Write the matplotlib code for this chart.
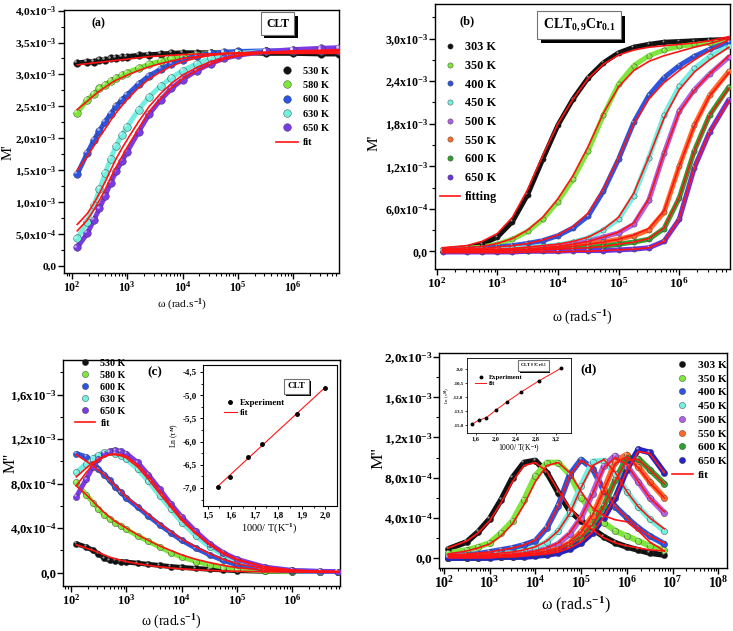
import matplotlib.pyplot as plt
import matplotlib.transforms as mtransforms
import matplotlib.patheffects as pe
from matplotlib.ticker import MultipleLocator, LogLocator, NullFormatter

plt.rcParams['font.family'] = 'Liberation Serif'
plt.rcParams['font.weight'] = 'bold'
plt.rcParams['mathtext.fontset'] = 'custom'
plt.rcParams['mathtext.rm'] = 'Liberation Serif:bold'
plt.rcParams['mathtext.it'] = 'Liberation Serif:italic:bold'
plt.rcParams['mathtext.bf'] = 'Liberation Serif:bold'
plt.rcParams['axes.linewidth'] = 1.0

RED = '#ff1414'

# ---------------- data (M values in units of 1e-3) ----------------
# CLT, angular frequency (rad/s)
w_clt = [125, 190, 250, 315, 400, 500, 630, 800, 1000, 1600, 2500, 4000, 6300,
         1e4, 1.8e4, 3.2e4, 5.6e4, 1e5, 3.2e5, 1e6, 3.2e6, 6.6e6]
t_clt = ['530 K', '580 K', '600 K', '630 K', '650 K']
c_clt = ['#111111', '#7ee63c', '#2f55e0', '#72efe0', '#7a3ae6']

# (a) M'
a_530 = [3.18, 3.20, 3.20, 3.22, 3.23, 3.25, 3.26, 3.27, 3.28, 3.30, 3.31, 3.32, 3.33, 3.34, 3.34, 3.34, 3.34, 3.34, 3.33, 3.33, 3.32, 3.32]
a_580 = [2.40, 2.60, 2.70, 2.78, 2.84, 2.90, 2.95, 2.99, 3.03, 3.10, 3.16, 3.21, 3.25, 3.28, 3.31, 3.33, 3.34, 3.35, 3.36, 3.36, 3.36, 3.36]
a_600 = [1.44, 1.77, 1.97, 2.12, 2.26, 2.38, 2.50, 2.60, 2.68, 2.85, 2.98, 3.08, 3.17, 3.23, 3.29, 3.33, 3.35, 3.36, 3.37, 3.37, 3.37, 3.37]
a_630 = [0.43, 0.69, 0.95, 1.20, 1.45, 1.68, 1.88, 2.05, 2.18, 2.45, 2.65, 2.82, 2.95, 3.06, 3.17, 3.25, 3.30, 3.33, 3.36, 3.38, 3.39, 3.40]
a_650 = [0.29, 0.51, 0.72, 0.90, 1.10, 1.30, 1.48, 1.64, 1.79, 2.10, 2.38, 2.60, 2.78, 2.92, 3.06, 3.17, 3.25, 3.30, 3.36, 3.39, 3.41, 3.42]
af_530 = [3.15, 3.17, 3.18, 3.19, 3.20, 3.21, 3.22, 3.23, 3.24, 3.26, 3.28, 3.29, 3.30, 3.31, 3.32, 3.32, 3.33, 3.33, 3.33, 3.33, 3.33, 3.33]
af_580 = [2.45, 2.58, 2.67, 2.74, 2.80, 2.86, 2.91, 2.95, 2.99, 3.06, 3.12, 3.17, 3.21, 3.25, 3.28, 3.30, 3.32, 3.33, 3.34, 3.35, 3.35, 3.35]
af_600 = [1.50, 1.72, 1.88, 2.02, 2.15, 2.28, 2.40, 2.51, 2.61, 2.79, 2.93, 3.04, 3.13, 3.20, 3.26, 3.30, 3.33, 3.34, 3.35, 3.36, 3.36, 3.36]
af_630 = [0.65, 0.82, 0.98, 1.14, 1.32, 1.50, 1.68, 1.84, 1.98, 2.26, 2.50, 2.70, 2.86, 2.99, 3.11, 3.20, 3.26, 3.30, 3.34, 3.36, 3.37, 3.37]
af_650 = [0.55, 0.72, 0.88, 1.03, 1.20, 1.38, 1.55, 1.71, 1.86, 2.15, 2.41, 2.62, 2.79, 2.93, 3.06, 3.16, 3.24, 3.29, 3.34, 3.37, 3.38, 3.39]

# (c) M''
c_530 = [0.26, 0.23, 0.20, 0.17, 0.13, 0.11, 0.105, 0.10, 0.095, 0.085, 0.075, 0.065, 0.055, 0.047, 0.038, 0.03, 0.024, 0.018, 0.012, 0.01, 0.01, 0.01]
c_580 = [0.81, 0.70, 0.63, 0.57, 0.52, 0.48, 0.45, 0.42, 0.39, 0.33, 0.28, 0.23, 0.18, 0.14, 0.10, 0.07, 0.05, 0.03, 0.015, 0.01, 0.01, 0.01]
c_600 = [1.07, 1.04, 1.00, 0.93, 0.88, 0.83, 0.77, 0.72, 0.67, 0.59, 0.51, 0.43, 0.36, 0.29, 0.22, 0.16, 0.11, 0.07, 0.03, 0.015, 0.01, 0.01]
c_630 = [0.90, 0.98, 1.03, 1.06, 1.08, 1.08, 1.07, 1.05, 1.02, 0.93, 0.82, 0.69, 0.57, 0.45, 0.33, 0.23, 0.16, 0.11, 0.045, 0.02, 0.01, 0.01]
c_650 = [0.68, 0.84, 0.95, 1.02, 1.07, 1.09, 1.10, 1.09, 1.07, 0.99, 0.88, 0.75, 0.62, 0.50, 0.37, 0.26, 0.18, 0.12, 0.05, 0.02, 0.012, 0.01]
cf_530 = [0.25, 0.22, 0.20, 0.18, 0.16, 0.14, 0.125, 0.11, 0.10, 0.08, 0.065, 0.052, 0.042, 0.034, 0.026, 0.02, 0.015, 0.012, 0.008, 0.006, 0.005, 0.005]
cf_580 = [0.78, 0.70, 0.64, 0.59, 0.54, 0.50, 0.46, 0.43, 0.40, 0.34, 0.29, 0.24, 0.20, 0.16, 0.12, 0.09, 0.065, 0.045, 0.022, 0.012, 0.008, 0.006]
cf_600 = [1.06, 1.00, 0.96, 0.92, 0.88, 0.83, 0.78, 0.73, 0.68, 0.60, 0.52, 0.44, 0.37, 0.30, 0.23, 0.17, 0.12, 0.08, 0.035, 0.016, 0.01, 0.008]
cf_630 = [0.78, 0.90, 0.97, 1.01, 1.04, 1.06, 1.06, 1.05, 1.03, 0.95, 0.84, 0.71, 0.59, 0.47, 0.35, 0.25, 0.17, 0.115, 0.05, 0.022, 0.012, 0.01]
cf_650 = [0.86, 0.94, 0.99, 1.02, 1.045, 1.06, 1.065, 1.06, 1.045, 0.97, 0.87, 0.74, 0.61, 0.49, 0.36, 0.26, 0.18, 0.12, 0.052, 0.023, 0.012, 0.01]

# CLT0.9Cr0.1
w_cr = [125, 316, 562, 1000, 1780, 3160, 5620, 1e4, 1.78e4, 3.16e4, 5.62e4,
        1e5, 1.78e5, 3.16e5, 5.62e5, 1e6, 1.78e6, 3.16e6, 6.6e6]
t_cr = ['303 K', '350 K', '400 K', '450 K', '500 K', '550 K', '600 K', '650 K']
c_b = ['#111111', '#7ee63c', '#2f55e0', '#72efe0', '#b060e0', '#ff6a2a', '#2fa02f', '#6a35e0']
c_d = ['#111111', '#7ee63c', '#2f55e0', '#72efe0', '#b060e0', '#ff6a2a', '#2fa02f', '#2424c4']

# (b) M'
b_303 = [0.02, 0.05, 0.10, 0.20, 0.42, 0.80, 1.30, 1.78, 2.15, 2.45, 2.66, 2.80, 2.88, 2.92, 2.95, 2.96, 2.97, 2.98, 2.99]
b_350 = [0.02, 0.04, 0.06, 0.10, 0.17, 0.28, 0.45, 0.70, 1.02, 1.42, 1.92, 2.36, 2.62, 2.76, 2.84, 2.89, 2.92, 2.94, 2.96]
b_400 = [0.02, 0.03, 0.04, 0.06, 0.08, 0.11, 0.15, 0.22, 0.33, 0.50, 0.85, 1.30, 1.82, 2.20, 2.45, 2.62, 2.75, 2.85, 2.95]
b_450 = [0.01, 0.02, 0.02, 0.03, 0.04, 0.05, 0.07, 0.09, 0.13, 0.19, 0.30, 0.45, 0.78, 1.32, 1.92, 2.33, 2.58, 2.75, 2.89]
b_500 = [0.0, 0.0, 0.01, 0.01, 0.02, 0.03, 0.05, 0.07, 0.10, 0.14, 0.20, 0.26, 0.38, 0.72, 1.38, 1.98, 2.28, 2.50, 2.74]
b_550 = [0.0, 0.0, 0.0, 0.01, 0.01, 0.02, 0.03, 0.05, 0.07, 0.10, 0.13, 0.17, 0.22, 0.30, 0.55, 1.20, 1.78, 2.20, 2.54]
b_600 = [0.0, 0.0, 0.0, 0.0, 0.01, 0.01, 0.02, 0.03, 0.04, 0.05, 0.07, 0.10, 0.13, 0.17, 0.32, 0.75, 1.42, 1.92, 2.32]
b_650 = [-0.01, -0.01, -0.01, -0.01, -0.01, 0.0, 0.0, 0.0, 0.01, 0.01, 0.01, 0.02, 0.03, 0.05, 0.14, 0.45, 1.18, 1.68, 2.14]
bf_303 = [0.05, 0.08, 0.14, 0.25, 0.48, 0.87, 1.35, 1.80, 2.15, 2.44, 2.64, 2.77, 2.84, 2.88, 2.90, 2.92, 2.94, 2.97, 3.03]
bf_350 = [0.03, 0.05, 0.07, 0.11, 0.18, 0.30, 0.48, 0.74, 1.07, 1.48, 1.95, 2.32, 2.55, 2.68, 2.76, 2.82, 2.88, 2.93, 3.01]
bf_400 = [0.02, 0.03, 0.04, 0.06, 0.08, 0.11, 0.16, 0.23, 0.35, 0.54, 0.88, 1.32, 1.80, 2.15, 2.38, 2.55, 2.70, 2.83, 2.99]
bf_450 = [0.01, 0.02, 0.03, 0.03, 0.04, 0.06, 0.08, 0.10, 0.14, 0.20, 0.31, 0.48, 0.82, 1.33, 1.88, 2.28, 2.53, 2.70, 2.88]
bf_500 = [0.0, 0.0, 0.01, 0.01, 0.02, 0.03, 0.05, 0.07, 0.10, 0.14, 0.20, 0.27, 0.40, 0.74, 1.38, 1.96, 2.27, 2.50, 2.76]
bf_550 = [0.0, 0.0, 0.0, 0.01, 0.01, 0.02, 0.03, 0.05, 0.07, 0.10, 0.13, 0.17, 0.23, 0.32, 0.57, 1.20, 1.77, 2.19, 2.52]
bf_600 = [0.0, 0.0, 0.0, 0.0, 0.01, 0.01, 0.02, 0.03, 0.04, 0.05, 0.07, 0.10, 0.13, 0.18, 0.33, 0.76, 1.42, 1.92, 2.30]
bf_650 = [-0.02, -0.02, -0.02, -0.02, -0.02, -0.01, -0.01, -0.01, 0.0, 0.0, 0.01, 0.02, 0.03, 0.05, 0.14, 0.46, 1.18, 1.68, 2.12]

# (d) M''
d_303 = [0.09, 0.16, 0.26, 0.39, 0.58, 0.80, 0.95, 0.97, 0.85, 0.65, 0.47, 0.37, 0.29, 0.21, 0.15, 0.11, 0.08, 0.05, 0.03]
d_350 = [0.05, 0.08, 0.11, 0.15, 0.25, 0.37, 0.58, 0.82, 0.95, 0.95, 0.83, 0.60, 0.45, 0.35, 0.27, 0.22, 0.17, 0.12, 0.08]
d_400 = [0.02, 0.03, 0.04, 0.06, 0.08, 0.10, 0.13, 0.17, 0.30, 0.52, 0.83, 0.98, 0.89, 0.67, 0.51, 0.40, 0.30, 0.22, 0.14]
d_450 = [0.01, 0.02, 0.02, 0.03, 0.04, 0.05, 0.07, 0.10, 0.16, 0.27, 0.45, 0.72, 0.96, 0.97, 0.84, 0.66, 0.51, 0.39, 0.27]
d_500 = [0.0, 0.01, 0.01, 0.02, 0.02, 0.03, 0.04, 0.06, 0.09, 0.14, 0.24, 0.40, 0.64, 0.92, 1.02, 0.92, 0.76, 0.60, 0.45]
d_550 = [0.0, 0.0, 0.01, 0.01, 0.01, 0.02, 0.03, 0.04, 0.06, 0.09, 0.15, 0.26, 0.42, 0.68, 0.96, 1.03, 0.91, 0.76, 0.60]
d_600 = [0.0, 0.0, 0.0, 0.01, 0.01, 0.01, 0.02, 0.03, 0.04, 0.07, 0.12, 0.20, 0.32, 0.52, 0.78, 1.00, 0.99, 0.88, 0.74]
d_650 = [0.0, 0.0, 0.0, 0.0, 0.01, 0.01, 0.01, 0.02, 0.03, 0.05, 0.09, 0.15, 0.25, 0.40, 0.60, 0.88, 1.08, 1.05, 0.85]
df_303 = [0.10, 0.17, 0.25, 0.37, 0.55, 0.76, 0.92, 0.95, 0.86, 0.67, 0.50, 0.37, 0.28, 0.20, 0.15, 0.12, 0.10, 0.08, 0.07]
df_350 = [0.04, 0.07, 0.10, 0.14, 0.22, 0.34, 0.53, 0.76, 0.92, 0.95, 0.85, 0.66, 0.50, 0.42, 0.38, 0.36, 0.27, 0.16, 0.07]
df_400 = [0.03, 0.04, 0.05, 0.06, 0.08, 0.10, 0.13, 0.18, 0.30, 0.52, 0.82, 0.97, 0.90, 0.68, 0.51, 0.40, 0.30, 0.22, 0.15]
df_450 = [0.03, 0.03, 0.04, 0.04, 0.05, 0.06, 0.08, 0.11, 0.17, 0.27, 0.44, 0.70, 0.92, 0.98, 0.85, 0.66, 0.51, 0.40, 0.29]
df_500 = [0.02, 0.02, 0.02, 0.03, 0.03, 0.04, 0.05, 0.07, 0.10, 0.15, 0.25, 0.41, 0.64, 0.90, 1.00, 0.93, 0.76, 0.60, 0.46]
df_550 = [0.02, 0.02, 0.02, 0.02, 0.02, 0.03, 0.04, 0.05, 0.07, 0.10, 0.16, 0.26, 0.43, 0.68, 0.94, 1.01, 0.90, 0.75, 0.60]
df_600 = [0.01, 0.01, 0.01, 0.01, 0.02, 0.02, 0.03, 0.04, 0.05, 0.08, 0.13, 0.21, 0.33, 0.52, 0.77, 0.98, 0.98, 0.88, 0.74]
df_650 = [0.0, 0.0, 0.0, 0.0, 0.01, 0.01, 0.02, 0.03, 0.04, 0.06, 0.10, 0.16, 0.26, 0.41, 0.61, 0.87, 1.06, 1.04, 0.85]

# insets: Ln(tau_M) vs 1000/T
ic_x = [1.545, 1.595, 1.67, 1.732, 1.879, 1.999]
ic_y = [-6.99, -6.77, -6.34, -6.05, -5.41, -4.84]
ic_fit_x = [1.54, 2.0]
ic_fit_y = [-6.98, -4.83]
id_x = [1.538, 1.667, 1.818, 2.0, 2.222, 2.5, 2.857, 3.30]
id_y = [-14.89, -14.5, -14.21, -13.43, -12.54, -11.5, -10.29, -8.93]

# tick labels
xt_6 = [1e2, 1e3, 1e4, 1e5, 1e6]
xl_6 = ['10$^{2}$', '10$^{3}$', '10$^{4}$', '10$^{5}$', '10$^{6}$']
xt_8 = [1e2, 1e3, 1e4, 1e5, 1e6, 1e7, 1e8]
xl_8 = ['10$^{2}$', '10$^{3}$', '10$^{4}$', '10$^{5}$', '10$^{6}$', '10$^{7}$', '10$^{8}$']
yt_a = [0, 0.5, 1.0, 1.5, 2.0, 2.5, 3.0, 3.5, 4.0]
yl_a = ['0,0', '5,0x10$^{-4}$', '1,0x10$^{-3}$', '1,5x10$^{-3}$', '2,0x10$^{-3}$',
        '2,5x10$^{-3}$', '3,0x10$^{-3}$', '3,5x10$^{-3}$', '4,0x10$^{-3}$']
yt_b = [0, 0.6, 1.2, 1.8, 2.4, 3.0]
yl_b = ['0,0', '6,0x10$^{-4}$', '1,2x10$^{-3}$', '1,8x10$^{-3}$', '2,4x10$^{-3}$', '3,0x10$^{-3}$']
yt_c = [0, 0.4, 0.8, 1.2, 1.6]
yl_c = ['0,0', '4,0x10$^{-4}$', '8,0x10$^{-4}$', '1,2x10$^{-3}$', '1,6x10$^{-3}$']
yt_d = [0, 0.4, 0.8, 1.2, 1.6, 2.0]
yl_d = ['0,0', '4,0x10$^{-4}$', '8,0x10$^{-4}$', '1,2x10$^{-3}$', '1,6x10$^{-3}$', '2,0x10$^{-3}$']


def draw_series(ax, w, ys, fits, colors, ms, band):
    handles = []
    shine = mtransforms.offset_copy(ax.transData, fig=ax.figure, x=-ms * 0.25, y=ms * 0.25,
                                    units='points')
    for y, c in zip(ys, colors):
        ax.plot(w, y, '-', color=c, lw=band, solid_capstyle='round', zorder=2)
        h, = ax.plot(w, y, 'o', color=c, ms=ms, mec='0.2', mew=0.3, zorder=3)
        ax.plot(w, y, 'o', color='white', alpha=0.55, ms=ms * 0.35, mew=0,
                transform=shine, zorder=3.5)
        handles.append(h)
    for f in fits:
        ln, = ax.plot(w, f, '-', color=RED, lw=1.2, zorder=4)
    return handles, ln


def style_axes(ax, xlim, ylim, xt, xl, yt, yl, ystep, fy, fx):
    ax.set_xscale('log')
    ax.set_xlim(xlim)
    ax.set_ylim(ylim)
    ax.set_xticks(xt, xl, fontsize=fx)
    ax.set_yticks(yt, yl, fontsize=fy)
    ax.xaxis.set_minor_locator(LogLocator(base=10, subs=range(2, 10), numticks=20))
    ax.xaxis.set_minor_formatter(NullFormatter())
    ax.yaxis.set_minor_locator(MultipleLocator(ystep))
    ax.tick_params(which='major', direction='out', length=4, width=1)
    ax.tick_params(which='minor', direction='out', length=2, width=0.8)
    ax.tick_params(axis='y', which='major', pad=1)
    ax.tick_params(axis='x', which='major', pad=1)


def boxed(ax, x, y, s, size, off=2.5, pad=0.4):
    t = ax.text(x, y, s, transform=ax.transAxes, fontsize=size, ha='center', va='center',
                bbox=dict(boxstyle='square,pad=%g' % pad, fc='white', ec='0.45', lw=0.8),
                zorder=7)
    t.get_bbox_patch().set_path_effects([
        pe.SimplePatchShadow(offset=(off, -off), shadow_rgbFace='k', alpha=1.0),
        pe.Normal()])


fig = plt.figure(figsize=(7.33, 6.31), dpi=100)

# ---------------- (a) ----------------
ax = fig.add_axes([0.0873, 0.5674, 0.3752, 0.4168])
hs, ln = draw_series(ax, w_clt, [a_530, a_580, a_600, a_630, a_650],
                     [af_530, af_580, af_600, af_630, af_650], c_clt, 5.5, 3.5)
style_axes(ax, (72, 6.7e6), (-0.11, 4.01), xt_6, xl_6, yt_a, yl_a, 0.25, 8.2, 8.5)
ax.legend(hs + [ln], t_clt + ['fit'], loc='upper left', bbox_to_anchor=(0.771, 0.785),
          frameon=False, fontsize=7.4, handlelength=2.1, handletextpad=0.5,
          labelspacing=0.5, borderpad=0, borderaxespad=0)
ax.text(0.124, 0.95, '(a)', transform=ax.transAxes, fontsize=8.5, ha='center', va='center')
boxed(ax, 0.776, 0.948, 'CLT', 8.5, pad=0.45)
ax.set_ylabel("M'", fontsize=10.5)
ax.yaxis.set_label_coords(-0.18, 0.46)
ax.set_xlabel('ω (rad.s$^{-1}$)', fontsize=8.2)
ax.xaxis.set_label_coords(0.43, -0.09)

# ---------------- (b) ----------------
ax = fig.add_axes([0.5935, 0.5737, 0.4025, 0.4200])
hs, ln = draw_series(ax, w_cr, [b_303, b_350, b_400, b_450, b_500, b_550, b_600, b_650],
                     [bf_303, bf_350, bf_400, bf_450, bf_500, bf_550, bf_600, bf_650],
                     c_b, 3.8, 3.6)
style_axes(ax, (94, 6.9e6), (-0.25, 3.49), xt_6, xl_6, yt_b, yl_b, 0.3, 8.6, 9.5)
ax.legend(hs + [ln], t_cr + ['fitting'], loc='upper left', bbox_to_anchor=(0.017, 0.86),
          frameon=False, fontsize=8.8, handlelength=1.64, handletextpad=0.4,
          labelspacing=0.55, borderpad=0, borderaxespad=0)
ax.text(0.107, 0.933, '(b)', transform=ax.transAxes, fontsize=9, ha='center', va='center')
boxed(ax, 0.488, 0.92, 'CLT$_{0,9}$Cr$_{0.1}$', 10, off=3)
ax.set_ylabel("M'", fontsize=11)
ax.yaxis.set_label_coords(-0.186, 0.475)
ax.set_xlabel('ω (rad.s$^{-1}$)', fontsize=10)
ax.xaxis.set_label_coords(0.5, -0.15)

# ---------------- (c) ----------------
ax = fig.add_axes([0.0859, 0.0713, 0.3779, 0.3582])
hs, ln = draw_series(ax, w_clt, [c_530, c_580, c_600, c_630, c_650],
                     [cf_530, cf_580, cf_600, cf_630, cf_650], c_clt, 4.5, 3.5)
style_axes(ax, (72, 7.2e6), (-0.12, 1.91), xt_6, xl_6, yt_c, yl_c, 0.2, 9.2, 8.8)
ax.legend(hs + [ln], t_clt + ['fit'], loc='upper left', bbox_to_anchor=(0.043, 1.005),
          frameon=False, fontsize=7.2, handlelength=2.06, handletextpad=0.5,
          labelspacing=0.3, borderpad=0, borderaxespad=0)
ax.text(0.33, 0.944, '(c)', transform=ax.transAxes, fontsize=9.5, ha='center', va='center')
ax.set_ylabel("M''", fontsize=11.5)
ax.yaxis.set_label_coords(-0.16, 0.544)
ax.set_xlabel('ω (rad.s$^{-1}$)', fontsize=10)
ax.xaxis.set_label_coords(0.39, -0.118)

# inset (c)
ins = fig.add_axes([0.2765, 0.1981, 0.1828, 0.2235])
ins.plot(ic_x, ic_y, 'o', color='k', ms=2.5, label='Experiment', zorder=3)
ins.plot(ic_fit_x, ic_fit_y, '-', color=RED, lw=0.8, label='fit', zorder=2)
ins.set_xlim(1.479, 2.048)
ins.set_ylim(-7.39, -4.35)
ins.set_xticks([1.5, 1.6, 1.7, 1.8, 1.9, 2.0], ['1,5', '1,6', '1,7', '1,8', '1,9', '2,0'], fontsize=6.5)
ins.set_yticks([-7.0, -6.5, -6.0, -5.5, -5.0, -4.5],
               ['-7,0', '-6,5', '-6,0', '-5,5', '-5,0', '-4,5'], fontsize=6.5)
ins.xaxis.set_minor_locator(MultipleLocator(0.05))
ins.yaxis.set_minor_locator(MultipleLocator(0.25))
ins.tick_params(which='major', direction='out', length=2.5, width=0.7, pad=1.5)
ins.tick_params(which='minor', direction='out', length=1.5, width=0.6)
for s in ins.spines.values():
    s.set_linewidth(0.8)
ins.set_xlabel('1000/ T(K$^{-1}$)', fontsize=7.5, labelpad=1)
ins.set_ylabel('Ln (τ$^{M}$)', fontsize=5.5, labelpad=1.5)
ins.legend(loc='upper left', bbox_to_anchor=(0.16, 0.76), frameon=False, fontsize=6.5,
           handlelength=1.4, handletextpad=0.4, labelspacing=0.2, borderpad=0, borderaxespad=0)
boxed(ins, 0.70, 0.85, 'CLT', 6.5, off=1.5)

# ---------------- (d) ----------------
ax = fig.add_axes([0.5993, 0.0998, 0.3921, 0.3407])
hs, ln = draw_series(ax, w_cr, [d_303, d_350, d_400, d_450, d_500, d_550, d_600, d_650],
                     [df_303, df_350, df_400, df_450, df_500, df_550, df_600, df_650],
                     c_d, 4.5, 4.2)
style_axes(ax, (79, 1.53e8), (-0.1, 2.04), xt_8, xl_8, yt_d, yl_d, 0.2, 9.6, 10)
ax.legend(hs + [ln], t_cr + ['fit'], loc='upper left', bbox_to_anchor=(0.81, 0.968),
          frameon=False, fontsize=8.2, handlelength=1.8, handletextpad=0.45,
          labelspacing=0.33, borderpad=0, borderaxespad=0)
ax.text(0.518, 0.926, '(d)', transform=ax.transAxes, fontsize=9.5, ha='center', va='center')
ax.set_ylabel("M''", fontsize=12.5)
ax.yaxis.set_label_coords(-0.185, 0.51)
ax.set_xlabel('ω (rad.s$^{-1}$)', fontsize=11.5)
ax.xaxis.set_label_coords(0.475, -0.125)

# inset (d)
ins = fig.add_axes([0.6371, 0.3138, 0.1419, 0.1189])
ins.plot(id_x, id_y, 'o', color='k', ms=1.8, label='Experiment', zorder=3)
ins.plot(id_x, id_y, '-', color=RED, lw=0.7, label='fit', zorder=2)
ins.set_xlim(1.43, 3.50)
ins.set_ylim(-15.87, -7.82)
ins.set_xticks([1.6, 2.0, 2.4, 2.8, 3.2], ['1,6', '2,0', '2,4', '2,8', '3,2'], fontsize=4.5)
ins.set_yticks([-15.0, -13.5, -12.0, -10.5, -9.0],
               ['-15,0', '-13,5', '-12,0', '-10,5', '-9,0'], fontsize=3.5)
ins.tick_params(which='major', direction='out', length=1.5, width=0.5, pad=1)
for s in ins.spines.values():
    s.set_linewidth(0.6)
ins.set_xlabel('1000/ T(K$^{-1}$)', fontsize=5.5, labelpad=0.5)
ins.set_ylabel('Ln (τ$^{M}$)', fontsize=3.5, labelpad=0.5)
ins.legend(loc='upper left', bbox_to_anchor=(0.08, 0.78), frameon=False, fontsize=4.8,
           handlelength=1.6, handletextpad=0.4, labelspacing=0.1, borderpad=0, borderaxespad=0)
boxed(ins, 0.64, 0.9, 'CLT$_{0,9}$Cr$_{0.1}$', 3.5, off=1)

fig.savefig('out.png', dpi=100)
